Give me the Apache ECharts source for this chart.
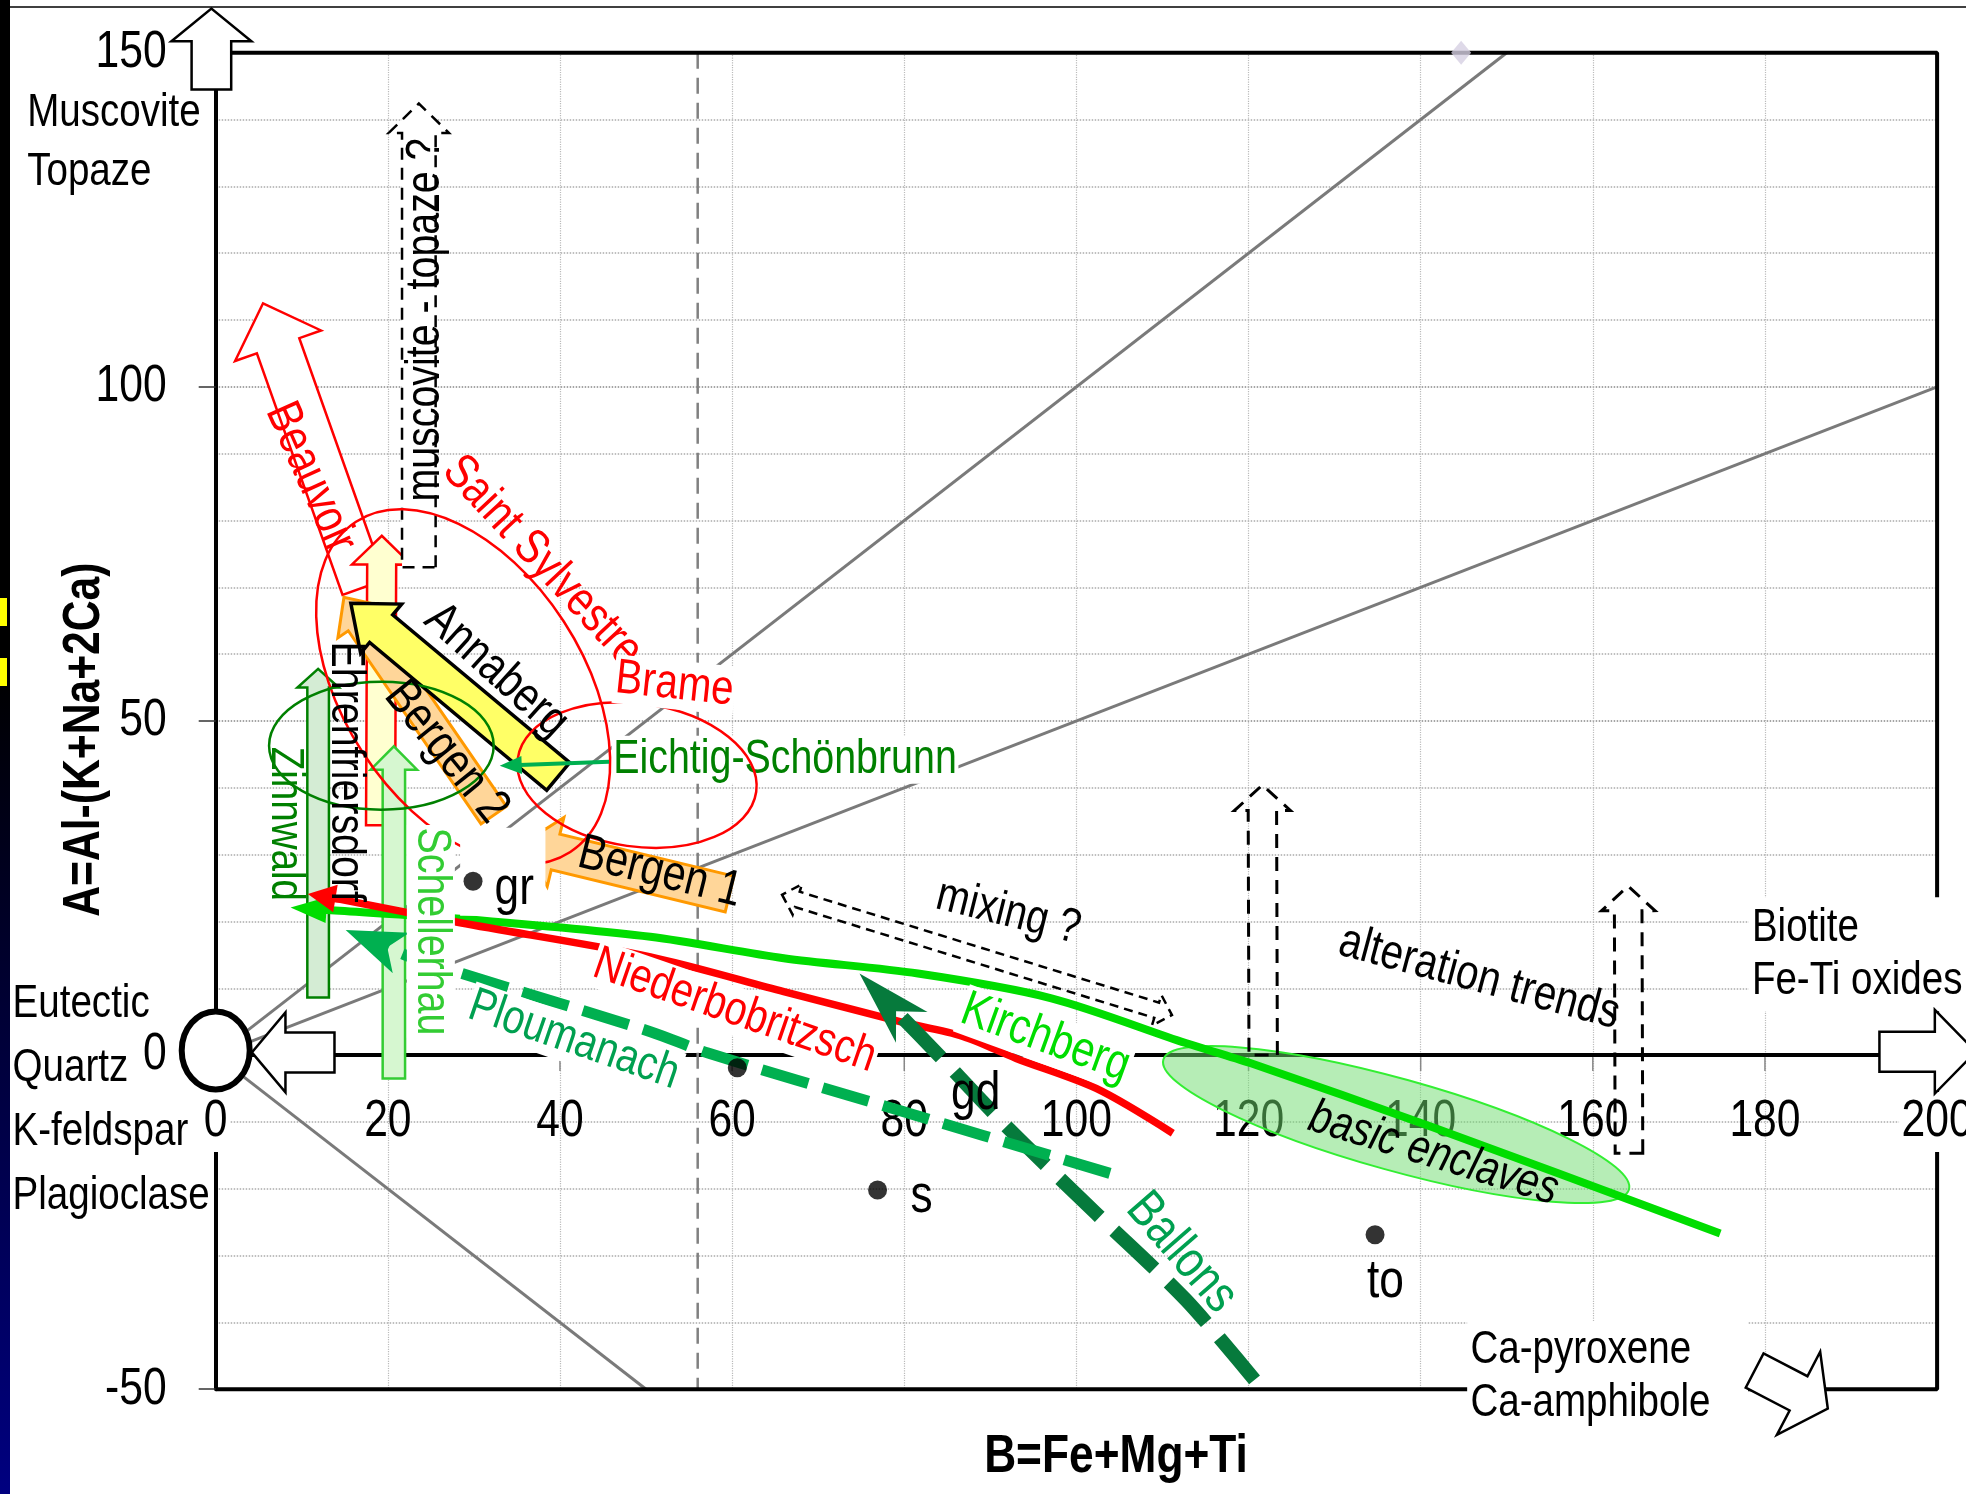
<!DOCTYPE html>
<html>
<head>
<meta charset="utf-8">
<title>A-B diagram</title>
<script src="https://cdn.jsdelivr.net/npm/echarts@6/dist/echarts.min.js"></script>
<style>
	html,body{margin:0;padding:0;background:#fff;}
	#main{width:1966px;height:1494px;}
</style>
</head>
<body>
<div id="main"></div>
<script type="text/javascript">
	var FONT = '"Liberation Sans",Arial,sans-serif';
	var NARROW = 0.82;//Arial Narrow look
	var RED = '#ff0000';

	// axes
	var xMin = 0, xMax = 200, xStep = 20;
	var yMin = -50, yMax = 150, yStep = 50;
	var xTicks = [0,20,40,60,80,100,120,140,160,180,200];
	var yTicks = [-50,0,50,100,150];

	// grey reference lines from the eutectic point
	var refLineFrom = [[0,0],[0,0],[0,0]];
	var refLineTo = [[150,150],[200,100],[50,-50]];
	var dividerX = 56;//dashed vertical line
	var frameX = [0,200,200,0];
	var frameY = [150,150,-50,-50];

	// eutectic point (quartz, K-feldspar, plagioclase)
	var eutectic = [0,0.7];

	// samples
	var sampleNames = ['gr','','s','to'];
	var sampleX = [29.9,60.6,76.9,134.7];
	var sampleY = [26.0,-1.9,-20.2,-26.9];
	var markerTop = [144.7,150];

	// trends, from tail to head
	var trendNames = ['Kirchberg','Niederbobritzsch','Ballons','Ploumanach','Eichtig-Schönbrunn'];
	var kirchX = [174.8,141.4,120.2,112.7,97.1,81.6,66.0,50.5,28.4,13.0];
	var kirchY = [-26.7,-10.8,-1.2,1.8,8.5,12.2,14.5,17.7,20.4,21.7];
	var niederX = [111.2,102.3,93.0,86.8,79.5,66.0,50.5,28.4,14.5];
	var niederY = [-11.7,-5.0,-0.5,2.8,5.0,9.5,14.7,19.8,23.3];
	var ballX = [120.7,112.7,102.3,91.9,84.0];
	var ballY = [-48.6,-36.6,-23.7,-10.7,0.0];
	var ploumX = [103.9,77.9,57.2,50.5,23.2];
	var ploumY = [-17.7,-7.7,0.3,3.5,14.4];
	var eichX = [45.7];
	var eichY = [43.9];
	var trendX = [kirchX,niederX,ballX,ploumX,eichX];
	var trendY = [kirchY,niederY,ballY,ploumY,eichY];
	var trendTipX = [8.7,10.7,74.8,15.1,33.0];
	var trendTipY = [22.1,24.1,12.2,18.7,43.3];

	// block arrows: tail centre -> tip
	var arrowNames = ['Beauvoir','Ehrenfriedersdorf','Bergen 2','Annaberg','Bergen 1','Zinnwald','Schellerhau',
		'muscovite-topaze','alteration 1','alteration 2','mixing','Muscovite','Quartz','Biotite','Ca-pyroxene'];
	var arrowFrom = [[17.2,70],[19.15,34.4],[32.3,35.9],[39.8,41.7],[59.7,24.1],[11.9,8.6],[20.7,-3.5],
		[23.6,73],[121.7,0],[164.2,-14.7],[65.8,24.0],[-0.5,144.5],[13.8,0.4],[193.3,0.5],[178.8,-47.2]];
	var arrowTo = [[5.5,112.5],[19.3,77.7],[14.9,68.5],[15.7,67.6],[35.6,31.6],[11.9,57.8],[20.7,46.2],
		[23.6,142.4],[121.6,40.4],[164.1,25.3],[111.1,6.0],[-0.5,156.6],[4.2,0.4],[204.5,0.5],[187.3,-52.9]];

	// ellipses, given by the ends of the long axis
	var ellipseNames = ['Saint Sylvestre','Brame','Zinnwald','basic enclaves'];
	var ellipseFrom = [[16.3,79.8],[35.1,44.4],[6.2,46.3],[110.1,-0.7]];
	var ellipseTo = [[41.2,30.4],[62.8,39.4],[32.3,46.3],[164.2,-20.1]];

	// labels
	var labelText = ['Muscovite\nTopaze','Eutectic\nQuartz\nK-feldspar\nPlagioclase','Biotite\nFe-Ti oxides','Ca-pyroxene\nCa-amphibole',
		'A=Al-(K+Na+2Ca)','B=Fe+Mg+Ti','muscovite - topaze ?','Beauvoir','Saint Sylvestre','Brame','Annaberg','Bergen 2','Bergen 1',
		'Zinnwald','Ehrenfriersdorf','Schellerhau','Eichtig-Schönbrunn','Niederbobritzsch','Ploumanach','Kirchberg','Ballons',
		'mixing ?','alteration trends','basic enclaves','gr','s','to','gd'];
	var labelX = [-21.9,-23.6,178.1,145.4,-15.2,104.6,24.4,11.0,37.95,53.3,32.6,26.8,51.6,8.1,15.0,25.0,46.0,60.3,41.6,96.4,112.2,92.1,146.8,141.5,28.4,82.0,135.9,88.3];
	var labelY = [136.6,-6.75,15.1,-48.1,47.2,-60.1,110,86.4,73.9,55.4,57.5,45.3,27.3,34.6,42.4,18.5,44.2,6.6,2.2,2.5,-29.6,21.3,11.5,-14.8,34.0,-21.3,-33.9,-5.9];

	// ---- styles (pixels) ----
	var arrowStyle = [
		{shaft:22.5,head:45.6,len:45,fill:'#fff',stroke:RED,lw:2.5},
		{shaft:14.5,head:29.7,len:28.7,fill:'#ffffd0',stroke:RED,lw:2.5},
		{shaft:15.4,head:28,len:30,fill:'#ffd699',stroke:'#ff9900',lw:3},
		{shaft:18,head:32,len:39.5,fill:'#ffff66',stroke:'#000',lw:3.5},
		{shaft:18.4,head:35.5,len:34.4,fill:'#ffd699',stroke:'#ff9900',lw:3},
		{shaft:10.8,head:20.7,len:18.7,fill:'#d4ecd4',stroke:'#008000',lw:2.5},
		{shaft:11.2,head:23.2,len:23.4,fill:'#d6f7d0',stroke:'#33cc33',lw:2.5},
		{shaft:16.8,head:30.1,len:29.4,fill:'#fff',stroke:'#000',lw:2.5,dash:[12,8]},
		{shaft:14.2,head:28,len:25.4,fill:'none',stroke:'#000',lw:3,dash:[14,9]},
		{shaft:13.8,head:26.7,len:24.7,fill:'none',stroke:'#000',lw:3,dash:[14,9]},
		{shaft:8,head:16,len:16,fill:'none',stroke:'#000',lw:2.5,dash:[9,6],both:true},
		{shaft:19.8,head:40,len:32.7,fill:'#fff',stroke:'#000',lw:2.5,top:true},
		{shaft:20,head:40,len:33.6,fill:'#fff',stroke:'#000',lw:2.5,top:true},
		{shaft:20,head:41.8,len:41,fill:'#fff',stroke:'#000',lw:2.5,top:true},
		{shaft:19.3,head:46.9,len:33,fill:'#fff',stroke:'#000',lw:2.5,top:true}
	];
	var ellipseStyle = [
		{minor:120,fill:'none',stroke:RED,lw:2.5},
		{minor:71.5,fill:'none',stroke:RED,lw:2.5},
		{minor:64,fill:'none',stroke:'#008000',lw:2.5},
		{minor:46,fill:'rgba(110,220,110,0.5)',stroke:'#33ee33',lw:2,back:true}
	];
	var trendStyle = [
		{color:'#00dd00',width:8,len:36,head:13,notch:1},
		{color:RED,width:7.5,len:28,head:14,notch:1},
		{color:'#067a3c',width:14,dash:[55,20],len:75,head:22,notch:0.7},
		{color:'#00b050',width:11,dash:[48,15],len:60,head:22,notch:0.75},
		{color:'#00b050',width:4,len:22,head:9,notch:1}
	];
	var labelStyle = [
		{align:'left',lh:59,size:47},
		{align:'left',lh:64,size:47},
		{align:'left',lh:53,size:47,bg:'#fff',pad:[4,40,4,4]},
		{align:'left',lh:53,size:47,bg:'#fff',pad:[2,46,2,4]},
		{rot:-90,size:52,bold:true},
		{size:54,bold:true},
		{rot:-90,size:48},
		{rot:66,size:49,color:RED},
		{rot:47,size:49,color:RED},
		{rot:6,size:49,color:RED,bg:'#fff',pad:[0,2]},
		{rot:42,size:49},
		{rot:51,size:50},
		{rot:14,size:50},
		{rot:90,size:47,color:'#008000'},
		{rot:90,size:48},
		{rot:90,size:48,color:'#33cc33',bg:'#fff',pad:[0,3]},
		{align:'left',size:48,color:'#008000',bg:'#fff',pad:[0,2],low:true},
		{rot:19,size:48,color:RED,bg:'#fff',pad:[0,2]},
		{rot:19,size:48,color:'#00a050',bg:'#fff',pad:[0,2]},
		{rot:20,size:50,color:'#00dd00',bg:'#fff',pad:[0,2]},
		{rot:49,size:52,color:'#00a050'},
		{rot:14,size:48},
		{rot:15,size:49},
		{rot:17,size:48,italic:true},
		{align:'left',valign:'top',size:54,bg:'#fff',pad:[34,14,0,42]},
		{size:54},{size:54},{size:54}
	];

	function arrowPoints(p0,p1,s){
		var dx = p1[0]-p0[0], dy = p1[1]-p0[1], L = Math.sqrt(dx*dx+dy*dy);
		var ux = dx/L, uy = dy/L, nx = -uy, ny = ux;
		function pt(t,w){ return [p0[0]+ux*t+nx*w, p0[1]+uy*t+ny*w]; }
		var h = s.len, sw = s.shaft, hw = s.head;
		if(s.both){
			return [pt(0,0),pt(h,hw),pt(h,sw),pt(L-h,sw),pt(L-h,hw),pt(L,0),pt(L-h,-hw),pt(L-h,-sw),pt(h,-sw),pt(h,-hw)];
		}
		return [pt(0,sw),pt(L-h,sw),pt(L-h,hw),pt(L,0),pt(L-h,-hw),pt(L-h,-sw),pt(0,-sw)];
	}

	function renderArrow(params,api){
		var i = api.value(2), s = arrowStyle[i];
		var pts = arrowPoints(api.coord(arrowFrom[i]),api.coord(arrowTo[i]),s);
		return {type:'polygon',shape:{points:pts},style:{fill:s.fill,stroke:s.stroke,lineWidth:s.lw,lineDash:s.dash||null,lineJoin:'miter'}};
	}

	function renderEllipse(params,api){
		var i = api.value(2), s = ellipseStyle[i];
		var a = api.coord(ellipseFrom[i]), b = api.coord(ellipseTo[i]);
		var dx = b[0]-a[0], dy = b[1]-a[1];
		return {type:'ellipse',x:(a[0]+b[0])/2,y:(a[1]+b[1])/2,rotation:-Math.atan2(dy,dx),
			shape:{cx:0,cy:0,rx:Math.sqrt(dx*dx+dy*dy)/2,ry:s.minor},
			style:{fill:s.fill,stroke:s.stroke,lineWidth:s.lw}};
	}

	function renderTrend(params,api){
		var i = api.value(2), s = trendStyle[i];
		var pts = [];
		trendX[i].forEach(function(el,index){ pts.push(api.coord([el,trendY[i][index]])); });
		var tip = api.coord([trendTipX[i],trendTipY[i]]);
		var last = pts[pts.length-1];
		var dx = tip[0]-last[0], dy = tip[1]-last[1], L = Math.sqrt(dx*dx+dy*dy);
		var ux = dx/L, uy = dy/L, nx = -uy, ny = ux;
		var base = [tip[0]-ux*s.len, tip[1]-uy*s.len];
		var notch = [tip[0]-ux*s.len*s.notch, tip[1]-uy*s.len*s.notch];
		pts.push([notch[0]+ux*2,notch[1]+uy*2]);
		return {type:'group',children:[
			{type:'polyline',shape:{points:pts,smooth:0.3},style:{fill:'none',stroke:s.color,lineWidth:s.width,lineDash:s.dash||null,lineCap:'butt'}},
			{type:'polygon',shape:{points:[tip,[base[0]+nx*s.head,base[1]+ny*s.head],notch,[base[0]-nx*s.head,base[1]-ny*s.head]]},style:{fill:s.color}}
		]};
	}

	function textStyle(text,size,opt){
		opt = opt || {};
		var style = {text:text,fill:opt.color||'#000',
			font:(opt.italic?'italic ':'')+(opt.bold?'bold ':'')+size+'px '+FONT,
			align:opt.align||'center',textAlign:opt.align||'center',
			verticalAlign:opt.valign||'middle',textVerticalAlign:opt.valign||'middle'};
		if(opt.lh) style.lineHeight = opt.lh;
		if(opt.bg){ style.backgroundColor = opt.bg; style.padding = opt.pad; }
		return style;
	}

	function renderLabel(params,api){
		var i = api.value(2), s = labelStyle[i];
		var p = api.coord([labelX[i],labelY[i]]);
		return {type:'text',x:p[0],y:p[1],scaleX:NARROW,rotation:-(s.rot||0)*Math.PI/180,style:textStyle(labelText[i],s.size||48,s)};
	}

	// tick labels of both axes, drawn at the axis positions
	function renderTick(params,api){
		var v = api.value(2), isX = api.value(3) === 1;
		if(isX){
			var p = api.coord([v,0]);
			var edge = (v===xMin||v===xMax);
			return {type:'group',children:[
				{type:'line',shape:{x1:p[0],y1:p[1]+2,x2:p[0],y2:p[1]+16},style:{stroke:'#888',lineWidth:1.5}},
				{type:'text',x:p[0],y:p[1]+67,scaleX:NARROW,style:textStyle(String(v),52,edge?{bg:'#fff',pad:[4,3]}:{})}
			]};
		}
		var q = api.coord([xMin,v]);
		return {type:'text',x:q[0]-49,y:q[1],scaleX:NARROW,style:textStyle(String(v),52,{align:'right'})};
	}

	function renderEutectic(params,api){
		var p = api.coord(eutectic);
		return {type:'ellipse',shape:{cx:p[0],cy:p[1],rx:34,ry:39},style:{fill:'#fff',stroke:'#000',lineWidth:6}};
	}

	function pick(n,pos,test){
		var out = [];
		for(var i=0;i<n;i++){ if(test(i)) out.push([pos(i)[0],pos(i)[1],i]); }
		return out;
	}

	var tickData = [];
	xTicks.forEach(function(el){ tickData.push([el,0,el,1]); });
	yTicks.forEach(function(el){ tickData.push([0,el,el,0]); });

	var series = [];
	refLineTo.forEach(function(el,index){
		series.push({type:'line',data:[refLineFrom[index],el],symbol:'none',z:1,silent:true,lineStyle:{color:'#7a7a7a',width:3}});
	});
	series.push({type:'line',data:[[dividerX,yMax],[dividerX,yMin]],symbol:'none',z:1,silent:true,lineStyle:{color:'#808080',width:2.5,type:[16,9]}});
	series.push({type:'line',data:frameX.map(function(el,index){ return [el,frameY[index]]; }),symbol:'none',z:1,silent:true,clip:false,lineStyle:{color:'#000',width:4}});
	series.push({type:'custom',z:1.5,clip:false,silent:true,renderItem:renderTick,data:tickData});
	series.push({type:'custom',z:2,clip:false,silent:true,renderItem:renderEllipse,
		data:pick(ellipseNames.length,function(i){return ellipseFrom[i];},function(i){return ellipseStyle[i].back;})});
	series.push({type:'custom',z:3,clip:false,silent:true,renderItem:renderArrow,
		data:pick(arrowNames.length,function(i){return arrowTo[i];},function(i){return !arrowStyle[i].top;})});
	series.push({type:'custom',z:4,clip:false,silent:true,renderItem:renderLabel,
		data:pick(labelText.length,function(i){return [labelX[i],labelY[i]];},function(i){return labelStyle[i].low;})});
	series.push({type:'custom',z:5,clip:false,silent:true,renderItem:renderEllipse,
		data:pick(ellipseNames.length,function(i){return ellipseFrom[i];},function(i){return !ellipseStyle[i].back;})});
	series.push({type:'custom',z:6,clip:false,silent:true,renderItem:renderTrend,
		data:pick(trendNames.length,function(i){return [trendTipX[i],trendTipY[i]];},function(){return true;})});
	series.push({type:'custom',z:7,clip:false,silent:true,renderItem:renderLabel,
		data:pick(labelText.length,function(i){return [labelX[i],labelY[i]];},function(i){return !labelStyle[i].low;})});
	series.push({type:'custom',z:8,clip:false,silent:true,renderItem:renderArrow,
		data:pick(arrowNames.length,function(i){return arrowTo[i];},function(i){return arrowStyle[i].top;})});
	series.push({type:'custom',z:8,clip:false,silent:true,renderItem:renderEutectic,data:[eutectic]});
	series.push({type:'scatter',z:9,silent:true,symbolSize:19,itemStyle:{color:'#000'},
		data:sampleX.map(function(el,index){ return {name:sampleNames[index],value:[el,sampleY[index]]}; })});
	series.push({type:'scatter',z:9,silent:true,symbol:'diamond',symbolSize:[20,24],clip:false,itemStyle:{color:'#d6d0e2'},data:[markerTop]});

	var option = {
		animation:false,
		backgroundColor:'#fff',
		grid:{left:215.7,right:28.9,top:52.7,bottom:104.8},
		xAxis:{
			type:'value',min:xMin,max:xMax,interval:xStep,
			axisLine:{onZero:true,lineStyle:{color:'#000',width:4}},
			axisTick:{show:false},
			axisLabel:{show:false},
			splitLine:{show:true,lineStyle:{color:'#bbb',type:'dotted',width:1.2}}
		},
		yAxis:{
			type:'value',min:yMin,max:yMax,interval:yStep,
			axisLine:{show:true,lineStyle:{color:'#000',width:4}},
			axisTick:{show:true,length:17,lineStyle:{color:'#333',width:1.5}},
			axisLabel:{show:false},
			splitLine:{show:true,lineStyle:{color:'#888',type:'dotted',width:1.5}},
			minorTick:{show:false,splitNumber:5},
			minorSplitLine:{show:true,lineStyle:{color:'#aaa',type:'dotted',width:1.5}}
		},
		graphic:[
			{type:'rect',silent:true,shape:{x:0,y:0,width:10,height:1494},
				style:{fill:new echarts.graphic.LinearGradient(0,0,0,1,[{offset:0,color:'#000'},{offset:0.45,color:'#000'},{offset:0.7,color:'#00003a'},{offset:1,color:'#000080'}])}},
			{type:'rect',silent:true,shape:{x:0,y:598,width:7,height:28},style:{fill:'#ffff00'}},
			{type:'rect',silent:true,shape:{x:0,y:658,width:7,height:28},style:{fill:'#ffff00'}},
			{type:'line',silent:true,shape:{x1:10,y1:7,x2:1966,y2:7},style:{stroke:'#000',lineWidth:1.5}}
		],
		series:series
	};

	var myChart = echarts.init(document.getElementById('main'));
	myChart.setOption(option);
</script>
</body>
</html>
